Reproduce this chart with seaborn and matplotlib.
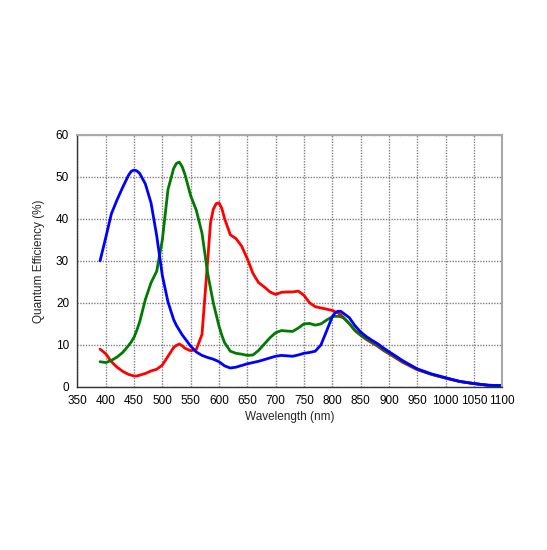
import numpy as np
import pandas as pd
import matplotlib
matplotlib.use("Agg")
import matplotlib.pyplot as plt
import seaborn as sns
from matplotlib.ticker import MultipleLocator

wavelength = [390, 400, 410, 420, 430, 440, 445, 450, 455, 460, 470, 480, 490,
              500, 510, 520, 525, 530, 535, 540, 550, 560, 570, 580, 585, 590,
              595, 600, 605, 610, 620, 630, 640, 650, 660, 670, 680, 690,
              700, 710, 720, 730, 740, 750, 760, 770, 780, 790,
              800, 805, 810, 815, 820, 830, 840, 850, 860, 870, 880, 890,
              900, 925, 950, 975, 1000, 1025, 1050, 1075, 1100]

red_qe = [9.0, 7.9, 6.0, 4.7, 3.7, 3.0, 2.8, 2.6, 2.6, 2.8, 3.2, 3.8, 4.2,
          5.2, 7.3, 9.4, 9.9, 10.2, 9.8, 9.2, 8.6, 8.9, 12.5, 30.0, 39.0, 42.3,
          43.6, 43.8, 42.5, 40.0, 36.2, 35.3, 33.5, 30.5, 27.0, 24.8, 23.8, 22.6,
          22.0, 22.5, 22.6, 22.6, 22.8, 21.8, 20.0, 19.1, 18.8, 18.5,
          18.2, 17.9, 17.6, 17.2, 16.5, 15.1, 13.4, 12.3, 11.3, 10.5, 9.7, 8.7,
          7.9, 5.8, 4.1, 3.0, 2.1, 1.3, 0.8, 0.4, 0.3]

green_qe = [6.0, 5.8, 6.3, 7.1, 8.2, 9.8, 10.7, 11.8, 13.5, 15.5, 20.8, 24.8, 27.5,
            35.0, 47.0, 52.0, 53.2, 53.5, 52.4, 50.5, 45.5, 42.0, 36.6, 27.0, 23.5, 20.0,
            17.2, 14.5, 12.3, 10.5, 8.5, 8.0, 7.8, 7.5, 7.6, 8.7, 10.2, 11.7,
            12.9, 13.4, 13.3, 13.2, 14.0, 15.0, 15.1, 14.7, 15.0, 15.9,
            16.7, 16.8, 16.8, 16.7, 16.4, 15.1, 13.5, 12.4, 11.5, 10.7, 9.9, 8.9,
            8.1, 6.0, 4.2, 3.0, 2.1, 1.3, 0.8, 0.4, 0.3]

blue_qe = [30.0, 35.5, 41.2, 44.5, 47.5, 50.3, 51.3, 51.6, 51.4, 50.8, 48.3, 43.8, 36.0,
           26.5, 20.2, 16.0, 14.6, 13.5, 12.4, 11.5, 9.7, 8.3, 7.5, 7.0, 6.8, 6.6,
           6.3, 6.0, 5.5, 5.0, 4.5, 4.7, 5.1, 5.5, 5.8, 6.1, 6.5, 6.9,
           7.3, 7.5, 7.4, 7.3, 7.6, 8.0, 8.2, 8.5, 10.0, 13.3,
           16.7, 17.6, 18.0, 18.0, 17.5, 16.5, 14.6, 13.1, 12.0, 11.1, 10.3, 9.3,
           8.4, 6.2, 4.3, 3.1, 2.2, 1.3, 0.8, 0.4, 0.3]

channels = ["Red", "Green", "Blue"]
colors = {"Red": "#ff0000", "Green": "#007a00", "Blue": "#0000ff"}

df = pd.concat([
    pd.DataFrame({"wavelength": wavelength, "qe": red_qe, "channel": "Red"}),
    pd.DataFrame({"wavelength": wavelength, "qe": green_qe, "channel": "Green"}),
    pd.DataFrame({"wavelength": wavelength, "qe": blue_qe, "channel": "Blue"}),
])

sns.set_theme(style="white")
plt.rcParams["font.family"] = ["Liberation Sans", "DejaVu Sans"]
plt.rcParams["lines.solid_joinstyle"] = "round"
plt.rcParams["lines.solid_capstyle"] = "round"

fig = plt.figure(figsize=(5.47, 5.5), dpi=100)
ax = fig.add_axes([0.1415, 0.2965, 0.7765, 0.4585])

ax.grid(True, which="major", color="#808080", linestyle=(0, (1, 1)), linewidth=1.0)
ax.set_axisbelow(True)

sns.lineplot(data=df, x="wavelength", y="qe", hue="channel", hue_order=channels,
             palette=colors, linewidth=2.0, legend=False, ax=ax, sort=False)

ax.set_xlim(350, 1100)
ax.set_ylim(0, 60)
ax.xaxis.set_major_locator(MultipleLocator(50))
ax.xaxis.set_minor_locator(MultipleLocator(10))
ax.yaxis.set_major_locator(MultipleLocator(10))
ax.yaxis.set_minor_locator(MultipleLocator(2))

ax.tick_params(axis="both", which="both", direction="in", colors="#333333",
               labelcolor="black", labelsize=8.5, width=0.8)
ax.tick_params(axis="both", which="major", length=0, pad=6)
ax.tick_params(axis="both", which="minor", length=3)
ax.tick_params(top=False, right=False, which="both")

for side in ["left", "bottom"]:
    ax.spines[side].set_color("#333333")
    ax.spines[side].set_linewidth(1.0)
for side in ["top", "right"]:
    ax.spines[side].set_color("#a8a8a8")
    ax.spines[side].set_linewidth(1.5)

ax.set_xlabel("Wavelength (nm)", fontsize=8.5, labelpad=3)
ax.set_ylabel("Quantum Efficiency (%)", fontsize=8.5, labelpad=8)

plt.savefig("out.png", dpi=100)
